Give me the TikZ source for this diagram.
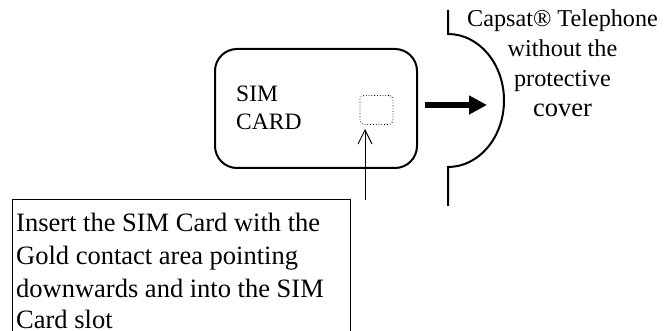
\documentclass[tikz,border=0pt]{standalone}
\usepackage{fontspec}
\setmainfont{Liberation Serif}
\usetikzlibrary{arrows.meta}
\tikzset{
  x=1pt,y=-1pt,
  txt/.style={inner sep=0pt,anchor=base west,font=\fontsize{26.5}{26.5}\selectfont},
  cardtext/.style={inner sep=0pt,anchor=base west,font=\fontsize{23.5}{23.5}\selectfont},
  ctr/.style={inner sep=0pt,anchor=base,font=\fontsize{24.2}{24.2}\selectfont},
  bold/.style={draw=black,line width=2pt},
  thin line/.style={draw=black,line width=1pt},
}
\begin{document}
\begin{tikzpicture}
\useasboundingbox (0,0) rectangle (664,331);
\node[bold,rounded corners=22pt,minimum width=202pt,minimum height=119pt,inner sep=0pt] (card) at (316,108.5) {};
\node[draw=black,dotted,line width=0.8pt,rounded corners=4pt,minimum width=33pt,minimum height=29pt,inner sep=0pt] (chip) at (376.5,110) {};
\node[cardtext] (sim) at (236,102) {SIM};
\node[cardtext] (cardtxt) at (236,130) {CARD};
\coordinate (tail) at (365,200);
\draw[thin line,-{Straight Barb[length=14pt,width=14pt,line width=1pt]}] (tail) -- (365,129);
% telephone outline
\coordinate (ptop) at (448,10);
\coordinate (pbot) at (448,206);
\draw[bold] (ptop) -- (448,34) arc[start angle=90,end angle=-90,x radius=56pt,y radius=66.5pt] -- (pbot);
% bold arrow
\coordinate (a1) at (425,105);
\coordinate (a2) at (487,105);
\draw[line width=6pt,-{Triangle[length=18pt,width=18pt]}] (a1) -- (a2);
% text box
\draw[thin line] (12,331) -- (12,200) -- (350,200) -- (350,331);
\node[txt] (l1) at (16,232) {Insert the SIM Card with the};
\node[txt] (l2) at (16,265) {Gold contact area pointing};
\node[txt] (l3) at (16,297) {downwards and into the SIM};
\node[txt] (l4) at (16,328) {Card slot};
\node[ctr] (c1) at (562.5,27) {Capsat® Telephone};
\node[ctr] (c2) at (562.5,57) {without the};
\node[ctr] (c3) at (562.5,87) {protective};
\node[txt,anchor=base] (c4) at (562.5,117) {cover};
\end{tikzpicture}
\end{document}
